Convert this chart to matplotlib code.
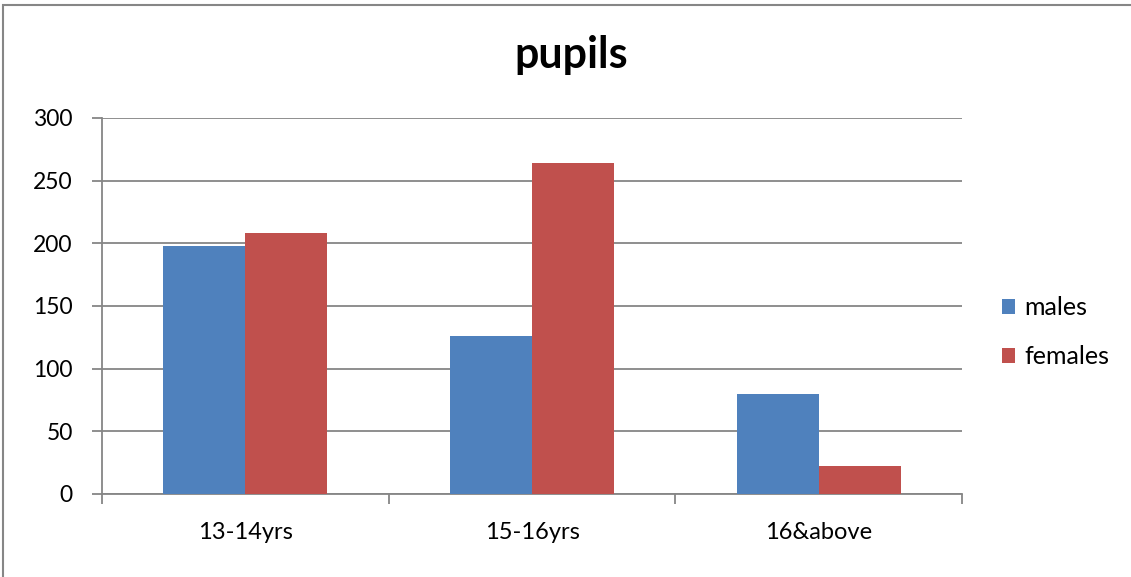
import numpy as np
import matplotlib.pyplot as plt
from matplotlib.patches import Rectangle

plt.rcParams['font.family'] = ['Lato', 'DejaVu Sans']

# age groups and pupil counts
categories = ['13-14yrs', '15-16yrs', '16&above']
males = [198, 126, 80]
females = [208, 264, 22]

fig = plt.figure(figsize=(11.31, 5.77), dpi=100)
ax = fig.add_axes([102 / 1131, 1 - 494 / 577, 860 / 1131, 376 / 577])

x = np.arange(len(categories))
w = 0.286
grid_col = '#868686'

ax.bar(x - w / 2, males, w, color='#4F81BD', label='males', zorder=3)
ax.bar(x + w / 2, females, w, color='#C0504D', label='females', zorder=3)

ax.set_xlim(-0.5, len(categories) - 0.5)
ax.set_ylim(0, 300)
ax.set_yticks(range(0, 301, 50))
ax.yaxis.grid(True, color=grid_col, linewidth=1.3, zorder=0)

# category labels centred, tick marks on the boundaries
ax.set_xticks(x)
ax.set_xticklabels(categories, fontsize=17)
ax.tick_params(axis='x', length=0, pad=20)
ax.set_xticks(np.arange(-0.5, len(categories)), minor=True)
ax.tick_params(axis='x', which='minor', length=7, color=grid_col, width=1.3)
ax.tick_params(axis='y', labelsize=16.5, length=7, color=grid_col, width=1.3, pad=14)

for s in ['top', 'right']:
    ax.spines[s].set_visible(False)
for s in ['left', 'bottom']:
    ax.spines[s].set_color(grid_col)
    ax.spines[s].set_linewidth(1.3)

fig.text(0.505, 0.905, 'pupils', ha='center', va='center', fontsize=31, fontweight='bold')

ax.legend(loc='center left', bbox_to_anchor=(1.02, 0.43), frameon=False, fontsize=18,
          handlelength=0.55, handleheight=0.55, handletextpad=0.35, labelspacing=1.05)

# outer chart border
fig.patches.append(Rectangle((3 / 1131, -0.01), 1.1, 1 - 5 / 577 + 0.01,
                             transform=fig.transFigure, fill=False,
                             edgecolor=grid_col, linewidth=1.5))

fig.savefig('out.png', dpi=100)
